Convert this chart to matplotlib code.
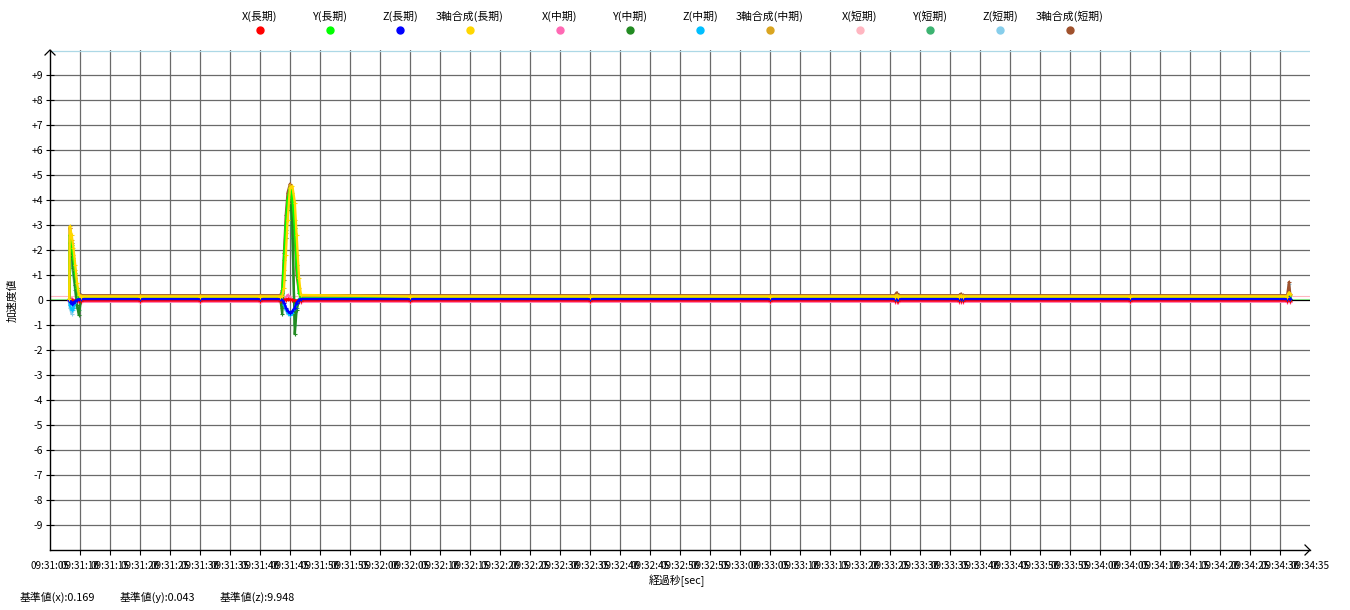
import matplotlib
matplotlib.use("Agg")
import matplotlib.pyplot as plt
from matplotlib.lines import Line2D
import datetime as dt

plt.rcParams['font.family'] = ['Noto Sans CJK JP', 'DejaVu Sans']

# ---------------- data ----------------
# seconds elapsed since 09:31:05
t_sec = [3.2, 3.3, 3.6, 3.9, 4.2, 4.5, 4.8, 5.2, 15, 25, 35, 38.4,
         38.7, 39.0, 39.3, 39.6, 40.0, 40.4, 40.8, 41.1, 41.5, 41.8,
         60, 90, 120, 140.8, 141.1, 141.4, 151.5, 151.8, 152.1, 180,
         206.2, 206.5, 206.7]

x_long = [0.0, 0.02, 0.0, -0.02, -0.02, -0.02, -0.02, -0.02, -0.02, -0.02, -0.02, -0.02,
          -0.02, 0.0, 0.02, 0.03, 0.02, 0.0, -0.02, -0.02, -0.02, -0.02,
          -0.02, -0.02, -0.02, -0.02, -0.02, -0.02, -0.02, -0.02, -0.02, -0.02,
          -0.02, 0.05, -0.02]
y_long = [0.05, 2.6, 2.2, 1.7, 1.1, 0.5, 0.1, 0.06, 0.06, 0.06, 0.06, 0.06,
          0.3, 1.6, 3.0, 4.0, 4.5, 4.1, 2.9, 1.4, 0.3, 0.06,
          0.06, 0.06, 0.06, 0.06, 0.06, 0.06, 0.06, 0.06, 0.06, 0.06,
          0.06, 0.15, 0.06]
z_long = [0.0, -0.05, -0.15, -0.1, -0.05, 0.0, 0.03, 0.04, 0.04, 0.04, 0.04, 0.04,
          0.0, -0.1, -0.3, -0.45, -0.5, -0.45, -0.3, -0.1, 0.0, 0.04,
          0.04, 0.04, 0.04, 0.04, 0.04, 0.04, 0.04, 0.04, 0.04, 0.04,
          0.04, 0.1, 0.04]
c_long = [0.05, 2.95, 2.6, 2.1, 1.4, 0.7, 0.2, 0.14, 0.14, 0.14, 0.14, 0.14,
          0.15, 0.5, 1.8, 3.2, 4.5, 4.55, 3.9, 2.6, 0.9, 0.2,
          0.14, 0.14, 0.14, 0.14, 0.18, 0.14, 0.14, 0.16, 0.14, 0.14,
          0.14, 0.3, 0.25]

x_mid = [-0.05, 0.1, 0.05, 0.0, -0.05, -0.06, -0.06, -0.06, -0.06, -0.06, -0.06, -0.06,
         -0.1, -0.05, 0.1, 0.2, 0.1, 0.0, -0.1, -0.1, -0.06, -0.06,
         -0.06, -0.06, -0.06, -0.06, -0.06, -0.06, -0.06, -0.06, -0.06, -0.06,
         -0.06, 0.1, -0.06]
y_mid = [0.05, 2.3, 1.9, 1.3, 0.6, -0.2, -0.6, 0.05, 0.05, 0.05, 0.05, 0.05,
         -0.55, 0.8, 2.5, 3.6, 4.2, 3.0, -1.36, -0.4, 0.0, 0.05,
         0.05, 0.05, 0.05, 0.05, 0.05, 0.05, 0.05, 0.05, 0.05, 0.05,
         0.05, 0.12, 0.05]
z_mid = [0.0, -0.2, -0.4, -0.3, -0.1, 0.0, 0.03, 0.05, 0.05, 0.05, 0.05, 0.05,
         0.0, -0.2, -0.35, -0.5, -0.6, -0.5, -0.3, -0.1, 0.0, 0.05,
         0.05, 0.05, 0.05, 0.05, 0.05, 0.05, 0.05, 0.05, 0.05, 0.05,
         0.05, 0.1, 0.05]
c_mid = [0.05, 2.9, 2.4, 1.8, 1.2, 0.5, 0.2, 0.16, 0.16, 0.16, 0.16, 0.16,
         0.3, 1.2, 2.7, 3.9, 4.6, 4.3, 3.2, 1.8, 0.5, 0.16,
         0.16, 0.16, 0.16, 0.16, 0.2, 0.16, 0.16, 0.18, 0.16, 0.16,
         0.16, 0.3, 0.2]

x_short = [-0.05, 0.1, 0.05, 0.0, -0.05, -0.07, -0.07, -0.07, -0.07, -0.07, -0.07, -0.07,
           -0.1, -0.05, 0.1, 0.15, 0.1, 0.0, -0.1, -0.1, -0.07, -0.07,
           -0.07, -0.07, -0.07, -0.07, -0.07, -0.07, -0.07, -0.07, -0.07, -0.07,
           -0.07, 0.1, -0.07]
y_short = [0.05, 2.0, 1.5, 1.0, 0.4, -0.3, -0.4, 0.05, 0.05, 0.05, 0.05, 0.05,
           -0.3, 1.0, 2.8, 3.9, 4.3, 2.5, -1.0, -0.3, 0.05, 0.05,
           0.05, 0.05, 0.05, 0.05, 0.05, 0.05, 0.05, 0.05, 0.05, 0.05,
           0.05, 0.12, 0.05]
z_short = [0.0, -0.3, -0.55, -0.4, -0.2, 0.0, 0.04, 0.04, 0.04, 0.04, 0.04, 0.04,
           0.0, -0.2, -0.4, -0.55, -0.6, -0.5, -0.3, -0.1, 0.0, 0.04,
           0.04, 0.04, 0.04, 0.04, 0.04, 0.04, 0.04, 0.04, 0.04, 0.04,
           0.04, 0.64, 0.04]
c_short = [0.05, 2.9, 2.3, 1.6, 0.9, 0.4, 0.22, 0.19, 0.19, 0.19, 0.19, 0.19,
           0.4, 1.9, 3.4, 4.3, 4.65, 4.0, 2.5, 1.0, 0.3, 0.19,
           0.19, 0.19, 0.19, 0.19, 0.3, 0.19, 0.19, 0.25, 0.19, 0.19,
           0.19, 0.72, 0.25]

series_labels = ['X(長期)', 'Y(長期)', 'Z(長期)', '3軸合成(長期)',
                 'X(中期)', 'Y(中期)', 'Z(中期)', '3軸合成(中期)',
                 'X(短期)', 'Y(短期)', 'Z(短期)', '3軸合成(短期)']
series_values = [x_long, y_long, z_long, c_long,
                 x_mid, y_mid, z_mid, c_mid,
                 x_short, y_short, z_short, c_short]
series_colors = ['#ff0000', '#00ff00', '#0000ff', '#ffd700',
                 '#ff69b4', '#228b22', '#00bfff', '#daa520',
                 '#ffb6c1', '#3cb371', '#87ceeb', '#a0522d']

base_x = 0.169
base_y = 0.043
base_z = 9.948

start_time = dt.datetime(2000, 1, 1, 9, 31, 5)
x_tick_values = list(range(0, 211, 5))
x_tick_labels = [(start_time + dt.timedelta(seconds=s)).strftime('%H:%M:%S') for s in x_tick_values]
y_tick_values = list(range(-9, 10))
y_tick_labels = [('+%d' % v if v > 0 else '%d' % v) for v in y_tick_values]

# ---------------- figure ----------------
W, H = 1350, 610
fig = plt.figure(figsize=(W / 100, H / 100), dpi=100)
ax = fig.add_axes([50 / W, 60 / H, 1260 / W, 500 / H])
ax.set_xlim(0, 210)
ax.set_ylim(-10, 10)

ax.set_xticks(x_tick_values)
ax.set_xticklabels(x_tick_labels)
ax.set_yticks(y_tick_values)
ax.set_yticklabels(y_tick_labels)

ax.grid(True, color='#6a6a6a', lw=0.9)
ax.set_axisbelow(True)
ax.get_xgridlines()[0].set_visible(False)
ax.get_xgridlines()[-1].set_visible(False)
ax.xaxis.get_major_ticks()[-1].tick1line.set_visible(False)
ax.xaxis.get_major_ticks()[0].tick1line.set_visible(False)

ax.tick_params(axis='x', direction='out', length=3.6, width=0.8, pad=4, labelsize=7.2)
ax.tick_params(axis='y', direction='inout', length=5.8, width=0.8, pad=2, labelsize=7.5)

for s in ['top', 'right']:
    ax.spines[s].set_visible(False)
for s in ['left', 'bottom']:
    ax.spines[s].set_color('black')
    ax.spines[s].set_linewidth(1.0)

# reference lines
ax.axhline(base_x, color='#ffb6c1', lw=0.8, zorder=1.5)
ax.axhline(base_y, color='#90ee90', lw=0.8, zorder=1.5)
ax.axhline(base_z, color='#add8e6', lw=0.9, zorder=1.5)
ax.axhline(0, color='black', lw=0.8, zorder=1.6)

# data (short first, long on top)
order = [8, 9, 10, 11, 4, 5, 6, 7, 0, 1, 2, 3]
for i in order:
    ax.plot(t_sec, series_values[i], color=series_colors[i], lw=1.7,
            marker='+', ms=2.5, mew=0.8, zorder=3)

# axis arrows
aw, ah = 1260.0, 500.0
ax.plot([-5 / aw, 0, 5 / aw], [1 - 5 / ah, 1, 1 - 5 / ah], color='black', lw=0.9,
        transform=ax.transAxes, clip_on=False)
ax.plot([1 - 5 / aw, 1, 1 - 5 / aw], [5 / ah, 0, -5 / ah], color='black', lw=0.9,
        transform=ax.transAxes, clip_on=False)

# legend (text above dot)
for i, (lab, col) in enumerate(zip(series_labels, series_colors)):
    px = 260 + 70 * i + 20 * (i // 4)
    fig.text(px / W, 1 - 16 / H, lab, ha='center', va='center', fontsize=7.8)
    fig.add_artist(Line2D([px / W], [1 - 30 / H], marker='o', ms=5, color=col,
                          markeredgecolor=col, transform=fig.transFigure))

# axis labels
fig.text(12 / W, 1 - 300 / H, '加速度値', rotation=90, ha='center', va='center', fontsize=7.8)
fig.text(677 / W, 1 - 581 / H, '経過秒[sec]', ha='center', va='center', fontsize=7.8)

# base values
base_texts = ['基準値(x):%.3f' % base_x, '基準値(y):%.3f' % base_y, '基準値(z):%.3f' % base_z]
for k, txt in enumerate(base_texts):
    fig.text((20 + 100 * k) / W, 1 - 597 / H, txt, ha='left', va='center', fontsize=7.8)

fig.savefig('out.png', dpi=100)
